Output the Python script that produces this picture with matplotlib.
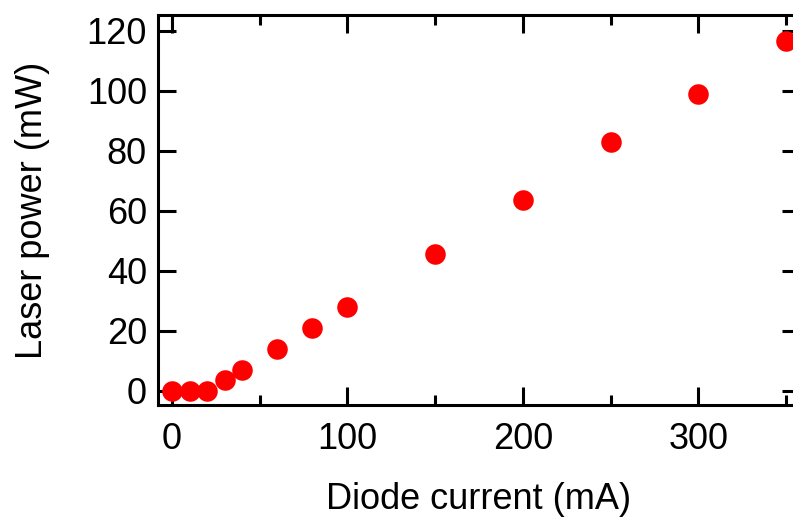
import matplotlib
matplotlib.use("Agg")
import matplotlib.pyplot as plt
from matplotlib.ticker import MultipleLocator

current_mA = [0, 10, 20, 30, 40, 60, 80, 100, 150, 200, 250, 300, 350]
power_mW = [0.0, 0.0, 0.0, 3.6, 7.0, 13.8, 21.0, 28.0, 45.7, 63.7, 83.0, 99.0, 116.5]

plt.rcParams['font.family'] = ['Liberation Sans', 'DejaVu Sans']

fig = plt.figure(figsize=(7.93, 5.17), dpi=100)
ax = fig.add_axes([158/793, 112/517, (800-158)/793, (405-15)/517])

ax.plot(current_mA, power_mW, 'o', color='#ff0000', markersize=14.8, markeredgewidth=0)

ax.set_xlim(-8, 358)
ax.set_ylim(-4.7, 125.2)
ax.xaxis.set_major_locator(MultipleLocator(100))
ax.xaxis.set_minor_locator(MultipleLocator(50))
ax.yaxis.set_major_locator(MultipleLocator(20))

for s in ax.spines.values():
    s.set_linewidth(2.2)
ax.tick_params(which='both', direction='in', top=True, right=True, width=2.2,
               labelsize=26)
ax.tick_params(which='major', length=13)
ax.tick_params(which='minor', length=7)
ax.tick_params(axis='x', pad=12)
ax.tick_params(axis='y', pad=8)

ax.set_xlabel('Diode current (mA)', fontsize=26, labelpad=18)
ax.set_ylabel('Laser power (mW)', fontsize=26, labelpad=26)

fig.savefig('out.png', dpi=100)
